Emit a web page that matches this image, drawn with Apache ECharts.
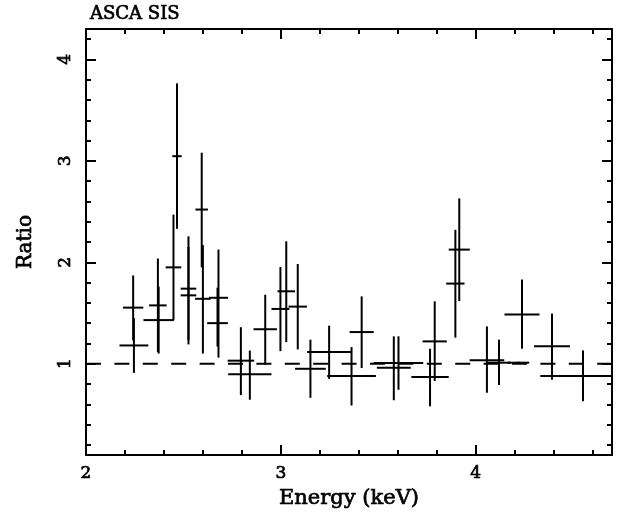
<!DOCTYPE html>
<html>
<head>
<meta charset="utf-8">
<script src="https://cdn.jsdelivr.net/npm/echarts@6/dist/echarts.min.js"></script>
<style>html,body{margin:0;padding:0;background:#fff}#c{width:619px;height:517px}</style>
</head>
<body>
<div id="c"></div>
<script>
// Energy bin centres (keV) and half-widths
var energy    = [2.246, 2.242, 2.373, 2.369, 2.449, 2.467, 2.594, 2.600, 2.526, 2.526, 2.680, 2.675, 2.795, 2.841, 2.920, 2.998, 3.028, 3.087, 3.152, 3.248, 3.363, 3.415, 3.604, 3.580, 3.790, 3.766, 3.896, 3.916, 4.058, 4.120, 4.220, 4.238, 4.392, 4.551];
var energyErr = [0.074, 0.052, 0.078, 0.045, 0.040, 0.024, 0.032, 0.040, 0.040, 0.040, 0.049, 0.053, 0.068, 0.111, 0.060, 0.046, 0.045, 0.047, 0.079, 0.113, 0.125, 0.062, 0.127, 0.087, 0.062, 0.096, 0.047, 0.054, 0.089, 0.060, 0.055, 0.090, 0.092, 0.219];
// Data/model ratio and its error range
var ratio     = [1.180, 1.553, 1.430, 1.575, 1.950, 3.046, 2.520, 1.640, 1.740, 1.674, 1.650, 1.400, 1.030, 0.897, 1.340, 1.540, 1.714, 1.563, 0.950, 1.115, 0.878, 1.312, 1.006, 0.960, 1.220, 0.868, 1.790, 2.125, 1.033, 1.010, 1.010, 1.484, 1.171, 0.880];
var ratioLow  = [0.910, 1.230, 1.100, 1.115, 1.430, 2.330, 1.950, 1.100, 1.230, 1.190, 1.060, 1.170, 0.690, 0.645, 0.990, 1.124, 1.213, 1.141, 0.664, 0.850, 0.588, 0.957, 0.743, 0.640, 0.830, 0.580, 1.257, 1.618, 0.714, 0.790, 1.000, 1.148, 0.842, 0.630];
var ratioHigh = [1.450, 1.870, 1.760, 2.037, 2.470, 3.764, 3.080, 2.170, 2.256, 2.150, 2.125, 1.750, 1.360, 1.130, 1.680, 1.954, 2.207, 1.983, 1.237, 1.375, 1.164, 1.664, 1.270, 1.270, 1.615, 1.148, 2.320, 2.630, 1.368, 1.237, 1.020, 1.830, 1.494, 1.131];
// Axis settings
var xRange = [2, 4.7];
var yRange = [0.1, 4.3];
var xTickLabels = [2, 3, 4];
var yTickLabels = [1, 2, 3, 4];
var unityLevel = 1;
var titleText = 'ASCA SIS';
var xName = 'Energy (keV)';
var yName = 'Ratio';

var FONT = 'DejaVu Serif';
var rows = energy.map(function (e, i) { return [e, energyErr[i], ratio[i], ratioLow[i], ratioHigh[i]]; });

function txt(size) {
  return { color: '#000', fontFamily: FONT, fontSize: size, fontWeight: 'normal', textBorderColor: '#000', textBorderWidth: 0.7 };
}
function axisCommon() {
  return {
    axisLine: { show: true, onZero: false, lineStyle: { color: '#000', width: 2 } },
    axisTick: { show: true, inside: true, length: 10, lineStyle: { color: '#000', width: 2 } },
    minorTick: { show: true, splitNumber: 5, length: 5, lineStyle: { color: '#000', width: 2 } },
    splitLine: { show: false },
    minorSplitLine: { show: false }
  };
}
function xAxisDef(pos, labels) {
  var a = axisCommon();
  a.type = 'value'; a.position = pos; a.min = xRange[0]; a.max = xRange[1];
  a.minInterval = 1; a.maxInterval = 1;
  a.axisLabel = Object.assign(txt(17), { show: labels, margin: 10,
    formatter: function (v) { return xTickLabels.indexOf(Math.round(v * 1000) / 1000) >= 0 ? String(v) : ''; } });
  if (labels) {
    a.name = xName; a.nameLocation = 'middle'; a.nameGap = 30;
    a.nameTextStyle = txt(21);
  }
  return a;
}
function yAxisDef(pos, labels) {
  var a = axisCommon();
  a.type = 'value'; a.position = pos; a.min = yRange[0]; a.max = yRange[1];
  a.minInterval = 1; a.maxInterval = 1;
  a.axisLabel = Object.assign(txt(17), { show: labels, margin: 12, rotate: 90,
    formatter: function (v) { return yTickLabels.indexOf(Math.round(v * 1000) / 1000) >= 0 ? String(v) : ''; } });
  if (labels) {
    a.name = yName; a.nameLocation = 'middle'; a.nameGap = 50;
    a.nameTextStyle = txt(20);
  }
  return a;
}

var chart = echarts.init(document.getElementById('c'), null, { renderer: 'canvas' });
chart.setOption({
  animation: false,
  backgroundColor: '#fff',
  title: { text: titleText, left: 85, top: 0, textStyle: txt(18) },
  grid: { left: 86, right: 7, top: 29, bottom: 62, containLabel: false },
  xAxis: [xAxisDef('bottom', true), xAxisDef('top', false)],
  yAxis: [yAxisDef('left', true), yAxisDef('right', false)],
  series: [
    {
      type: 'line',
      data: [[xRange[0], unityLevel], [xRange[1], unityLevel]],
      showSymbol: false,
      symbol: 'none',
      lineStyle: { color: '#000', width: 2, type: [15, 13.4] },
      silent: true
    },
    {
      type: 'custom',
      clip: true,
      data: rows,
      encode: { x: 0, y: 2 },
      renderItem: function (params, api) {
        var x = api.value(0), dx = api.value(1), y = api.value(2), lo = api.value(3), hi = api.value(4);
        var pL = api.coord([x - dx, y]), pR = api.coord([x + dx, y]);
        var pT = api.coord([x, hi]), pB = api.coord([x, lo]);
        var st = { stroke: '#000', lineWidth: 2 };
        return {
          type: 'group',
          children: [
            { type: 'line', shape: { x1: pL[0], y1: pL[1], x2: pR[0], y2: pR[1] }, style: st },
            { type: 'line', shape: { x1: pT[0], y1: pT[1], x2: pB[0], y2: pB[1] }, style: st }
          ]
        };
      }
    }
  ]
});
</script>
</body>
</html>
